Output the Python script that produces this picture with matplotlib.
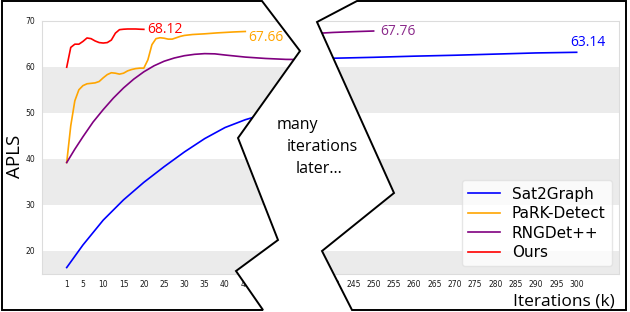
import matplotlib
matplotlib.use("Agg")
import matplotlib.pyplot as plt
from matplotlib.patches import Polygon
from matplotlib.transforms import Affine2D

# ---------------- data ----------------
series_names = ["Sat2Graph", "PaRK-Detect", "RNGDet++", "Ours"]
series_colors = ["blue", "orange", "purple", "red"]

ours_x = [1, 2, 3, 4, 5, 6, 7, 8, 9, 10, 11, 12, 13, 14, 15, 16, 17, 18, 19, 20]
ours_y = [59.9, 64.2, 64.9, 64.9, 65.5, 66.25, 66.1, 65.6, 65.25, 65.15, 65.25, 65.8,
          67.3, 68.05, 68.15, 68.2, 68.2, 68.2, 68.15, 68.12]

park_x = [1, 2, 3, 4, 5, 6, 7, 8, 9, 10, 11, 12, 13, 14, 15, 16, 17, 18, 19, 20,
          21, 22, 23, 24, 25, 26, 27, 28, 29, 30, 32, 35, 38, 40, 42, 45]
park_y = [39.2, 47.2, 52.6, 55.0, 55.9, 56.3, 56.4, 56.5, 56.8, 57.6, 58.3, 58.7,
          58.6, 58.4, 58.6, 59.1, 59.4, 59.6, 59.7, 59.7, 61.5, 64.8, 66.1, 66.3,
          66.2, 66.0, 66.0, 66.3, 66.6, 66.8, 67.0, 67.15, 67.35, 67.45, 67.55, 67.66]

rng_left_x = [1, 3, 5, 7.5, 10, 12.5, 15, 17.5, 20, 22.5, 25, 27.5, 30, 32.5, 35,
              37.5, 40, 45, 50, 55, 60]
rng_left_y = [39.2, 42.1, 44.8, 48.0, 50.7, 53.2, 55.4, 57.3, 58.9, 60.2, 61.2, 61.9,
              62.4, 62.7, 62.85, 62.8, 62.55, 62.1, 61.8, 61.6, 61.55]
rng_right_x = [235, 240, 245, 250]
rng_right_y = [67.2, 67.45, 67.62, 67.76]

sat_left_x = [1, 5, 10, 15, 20, 25, 30, 35, 40, 45, 50, 55, 60]
sat_left_y = [16.4, 21.3, 26.7, 31.1, 34.9, 38.3, 41.5, 44.4, 46.8, 48.5, 49.8, 51.0, 52.0]
sat_right_x = [235, 240, 250, 260, 270, 280, 290, 300]
sat_right_y = [61.75, 61.85, 62.05, 62.3, 62.5, 62.75, 63.0, 63.14]

left_ticks = [1, 5, 10, 15, 20, 25, 30, 35, 40, 45]
right_ticks = [240, 245, 250, 255, 260, 265, 270, 275, 280, 285, 290, 295, 300]
y_ticks = [20, 30, 40, 50, 60, 70]
grey_bands = [(10, 20), (30, 40), (50, 60)]

# ---------------- figure ----------------
W, H = 630, 312
fig = plt.figure(figsize=(W / 100, H / 100), dpi=100)
fig.patch.set_facecolor("white")

def px(x0, y0, x1, y1):
    return [x0 / W, 1 - y1 / H, (x1 - x0) / W, (y1 - y0) / H]

ax_l = fig.add_axes(px(41.7, 20.7, 308, 274))
ax_r = fig.add_axes(px(308, 20.7, 619.3, 274))

for ax in (ax_l, ax_r):
    ax.set_ylim(15, 70)
    for lo, hi in grey_bands:
        ax.axhspan(lo, hi, color="#ebebeb", lw=0, zorder=0)
    for s in ax.spines.values():
        s.set_color("#dcdcdc")
        s.set_linewidth(0.8)
    ax.tick_params(length=0, labelsize=5.5, labelcolor="#1a1a1a", pad=4.5)
    ax.set_yticks(y_ticks)

ax_l.set_xlim(-5.16, 60.45)
ax_r.set_xlim(233.84, 310.5)
ax_l.set_xticks(left_ticks)
ax_r.set_xticks(right_ticks)
ax_r.set_yticklabels([])

lw = 1.2
ax_l.plot(sat_left_x, sat_left_y, color=series_colors[0], lw=lw)
ax_l.plot(park_x, park_y, color=series_colors[1], lw=lw)
ax_l.plot(rng_left_x, rng_left_y, color=series_colors[2], lw=lw)
ax_l.plot(ours_x, ours_y, color=series_colors[3], lw=lw)
h_sat, = ax_r.plot(sat_right_x, sat_right_y, color=series_colors[0], lw=lw)
h_rng, = ax_r.plot(rng_right_x, rng_right_y, color=series_colors[2], lw=lw)

num_font = "Open Sans"
ax_l.annotate(f"{ours_y[-1]:.2f}", (ours_x[-1], ours_y[-1]), xytext=(2.7, 0),
              textcoords="offset points", ha="left", va="center",
              color="red", fontsize=10, family=num_font)
ax_l.annotate(f"{park_y[-1]:.2f}", (park_x[-1], park_y[-1]), xytext=(2.4, -4.3),
              textcoords="offset points", ha="left", va="center",
              color="orange", fontsize=10, family=num_font)
ax_r.annotate(f"{rng_right_y[-1]:.2f}", (rng_right_x[-1], rng_right_y[-1]), xytext=(4.5, -0.7),
              textcoords="offset points", ha="left", va="center",
              color="#8b2a8b", fontsize=10, family=num_font)
ax_r.annotate(f"{sat_right_y[-1]:.2f}", (sat_right_x[-1], sat_right_y[-1]), xytext=(-4.3, 7.2),
              textcoords="offset points", ha="left", va="center",
              color="blue", fontsize=10, family=num_font)

from matplotlib.lines import Line2D
handles = [Line2D([], [], color=c, lw=lw) for c in series_colors]
leg = ax_r.legend(handles, series_names, loc="lower right", fontsize=11,
                  handlelength=2.1, handletextpad=0.75, labelspacing=0.3,
                  borderpad=0.4, borderaxespad=0.5, framealpha=0.8,
                  edgecolor="#e0e0e0", facecolor="white")
leg.set_zorder(5)

# ---------------- break overlay & frame (pixel coords, y from top) ----------------
pix = Affine2D().scale(1 / W, -1 / H).translate(0, 1) + fig.transFigure

left_zig = [(262, 1), (300, 51), (238, 138), (278, 240), (236, 271), (263, 310)]
right_zig = [(357, 1), (317, 22), (394, 193), (322, 251), (352, 310)]

gap = [(262, -5)] + left_zig + [(263, 320), (352, 320)] + right_zig[::-1] + [(357, -5)]
fig.add_artist(Polygon(gap, closed=True, transform=pix, facecolor="white",
                       edgecolor="none", zorder=6))

left_piece = [(2, 1)] + left_zig + [(2, 310)]
right_piece = right_zig[::-1] + [(626, 310), (626, 1)]
# right_piece order: (352,310),(322,251),(394,193),(317,22),(357,1),(626,310)? fix order
right_piece = [(357, 1), (626, 1), (626, 310), (352, 310), (322, 251), (394, 193), (317, 22)]
for poly in (left_piece, right_piece):
    fig.add_artist(Polygon(poly, closed=True, transform=pix, facecolor="none",
                           edgecolor="black", lw=1.4, zorder=7, joinstyle="miter"))

txt_font = "Open Sans"
fig.text(277 / W, 1 - 125 / H, "many", ha="left", va="center", fontsize=11.5,
         family=txt_font, zorder=8)
fig.text(287 / W, 1 - 147 / H, "iterations", ha="left", va="center", fontsize=11.5,
         family=txt_font, zorder=8)
fig.text(296 / W, 1 - 169 / H, "later...", ha="left", va="center", fontsize=11.5,
         family=txt_font, zorder=8)

fig.text(615 / W, 1 - 305 / H, "Iterations (k)", ha="right", va="baseline",
         fontsize=12.5, family=txt_font, zorder=8)
fig.text(15.5 / W, 1 - 156 / H, "APLS", ha="center", va="center", rotation=90,
         fontsize=13.5, family=txt_font, zorder=8)

fig.savefig("out.png", dpi=100)
